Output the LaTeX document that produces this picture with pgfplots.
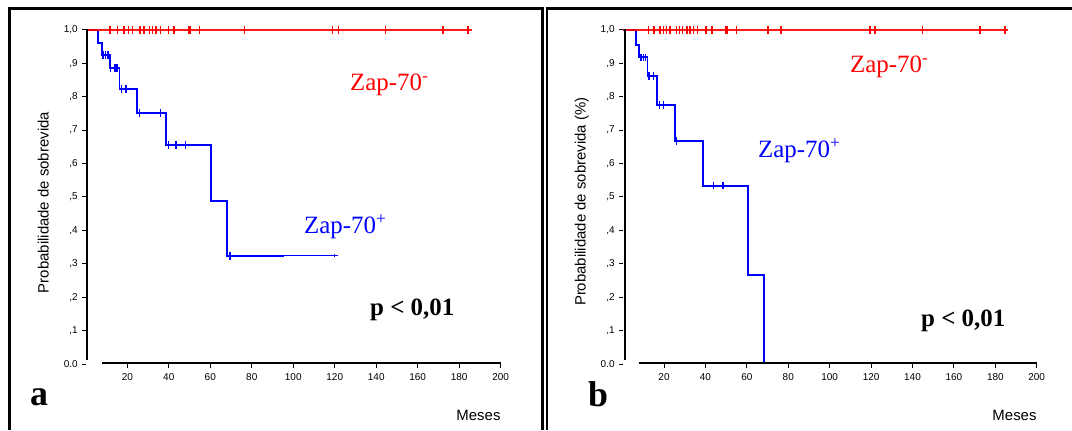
\documentclass[border=0pt]{standalone}
\usepackage{fontspec}
\setmainfont{Liberation Sans}
\newfontfamily\tnr{Liberation Serif}
\usepackage{pgfplots}
\pgfplotsset{compat=1.18}

\pgfplotsset{
  km/.style={
    scale only axis, height=334bp,
    xmin=0, xmax=200, ymin=0, ymax=1,
    axis lines*=left,
    axis line style={draw=none},
    clip=false,
    xtick={20,40,...,200},
    xticklabels={20,40,60,80,100,120,140,160,180,200},
    ytick={0,0.1,...,1.0},
    yticklabels={{0.0},{,1},{,2},{,3},{,4},{,5},{,6},{,7},{,8},{,9},{1,0}},
    tick align=outside,
    major tick length=3.5bp,
    tick style={black, line width=1bp},
    ticklabel style={font=\fontsize{10}{12}\selectfont},
    xticklabel style={yshift=-3bp},
    yticklabel style={xshift=-1bp},
  },
  surv/.style={const plot, blue, line width=1.8bp},
  neg/.style={red, line width=1.5bp, opacity=0.9},
  cens/.style={only marks, mark=|, mark size=3.8bp, mark options={line width=1.5bp}},
}

\begin{document}
\begin{tikzpicture}[x=1bp, y=1bp]
\useasboundingbox (0,0) rectangle (1072,430);

% frames
\draw[line width=3bp] (9.5,0) -- (9.5,421.5) -- (542,421.5) -- (542,0);
\draw[line width=2.3bp] (547.3,0) -- (547.3,421.5) -- (1072,421.5);

% ---------------- panel a ----------------
\begin{axis}[km, at={(85.8bp,66bp)}, anchor=south west, width=414.9bp]
  \addplot[surv] coordinates {
    (0,1) (6,0.96) (7.7,0.925) (11.7,0.887) (16.2,0.823) (24.5,0.751)
    (38.6,0.656) (60.2,0.487) (67.9,0.324) (95.5,0.324)
  };
  \addplot[blue, line width=1bp] coordinates {(95.5,0.324) (121.7,0.324)};
  \addplot[cens, blue] coordinates {
    (8.3,0.925) (9.5,0.925) (10.7,0.925) (12,0.887) (14,0.887) (15,0.887)
    (17.3,0.823) (19.4,0.823) (25.8,0.751) (36,0.751) (39.8,0.656)
    (43.5,0.656) (48,0.656) (69.5,0.324)
  };
  \addplot[cens, blue, mark size=1.5bp] coordinates {(120,0.324)};

  \addplot[neg] coordinates {(0,1) (186,1)};
  \addplot[cens, red] coordinates {
    (11.7,1) (15.2,1) (18.4,1) (20.5,1) (22.6,1) (26.1,1) (28,1) (30.6,1)
    (32.2,1) (33.8,1) (36.1,1) (39.8,1) (42.5,1) (49.4,1) (50.2,1) (54.7,1)
    (76.4,1) (119,1) (121.7,1) (144.5,1) (172.3,1) (184.3,1)
  };
  % axis lines
  \draw[black, line width=2.2bp] (axis cs:7.7,0.002) -- (axis cs:200,0.002);
  \draw[black, line width=2.2bp] (axis cs:0.6,0.012) -- (axis cs:0.6,1.003);
\end{axis}

\node[rotate=90, font=\fontsize{15}{18}\selectfont] at (43.3,227.5) {Probabilidade de sobrevida};
\node[anchor=base east, inner sep=0, font=\fontsize{15}{18}\selectfont] at (500.7,10) {Meses};
\node[anchor=base west, inner sep=0, red, font=\tnr\fontsize{25}{30}\selectfont] at (350,340) {Zap-70\textsuperscript{-}};
\node[anchor=base west, inner sep=0, blue, font=\tnr\fontsize{25}{30}\selectfont] at (304,197) {Zap-70\textsuperscript{+}};
\node[anchor=base west, inner sep=0, font=\tnr\bfseries\fontsize{25}{30}\selectfont] at (370,115) {p < 0,01};
\node[anchor=base west, inner sep=0, font=\tnr\bfseries\fontsize{36}{40}\selectfont] at (30,25) {a};

% ---------------- panel b ----------------
\begin{axis}[km, at={(622.6bp,66bp)}, anchor=south west, width=414.1bp]
  \addplot[surv] coordinates {
    (0,1) (6.5,0.955) (8.1,0.918) (12,0.863) (16.8,0.775) (25.3,0.667)
    (39,0.534) (60.7,0.266) (68.3,0)
  };
  \addplot[cens, blue] coordinates {
    (8.9,0.918) (10,0.918) (11.1,0.918) (12.8,0.863) (14.9,0.863)
    (17.8,0.775) (19.8,0.775) (26.1,0.667) (43.9,0.534) (48.5,0.534)
  };

  \addplot[neg] coordinates {(0,1) (186,1)};
  \addplot[cens, red] coordinates {
    (12.4,1) (15.2,1) (18.1,1) (19.7,1) (21.3,1) (22.9,1) (26.1,1) (27.4,1)
    (29,1) (31,1) (32.6,1) (34.2,1) (36.1,1) (40.3,1) (43.1,1) (50,1)
    (50.6,1) (55.1,1) (70.1,1) (76.5,1) (119.5,1) (122,1) (144.8,1)
    (172.6,1) (184.7,1)
  };
  % axis lines
  \draw[black, line width=2.2bp] (axis cs:7.7,0.002) -- (axis cs:200,0.002);
  \draw[black, line width=2.2bp] (axis cs:1.2,0.012) -- (axis cs:1.2,1.003);
\end{axis}

\node[rotate=90, font=\fontsize{15}{18}\selectfont] at (581.7,228.3) {Probabilidade de sobrevida (\%)};
\node[anchor=base east, inner sep=0, font=\fontsize{15}{18}\selectfont] at (1036.7,10) {Meses};
\node[anchor=base west, inner sep=0, red, font=\tnr\fontsize{25}{30}\selectfont] at (850,358) {Zap-70\textsuperscript{-}};
\node[anchor=base west, inner sep=0, blue, font=\tnr\fontsize{25}{30}\selectfont] at (758,273) {Zap-70\textsuperscript{+}};
\node[anchor=base west, inner sep=0, font=\tnr\bfseries\fontsize{25}{30}\selectfont] at (921,104) {p < 0,01};
\node[anchor=base west, inner sep=0, font=\tnr\bfseries\fontsize{36}{40}\selectfont] at (588,24) {b};
\end{tikzpicture}
\end{document}
